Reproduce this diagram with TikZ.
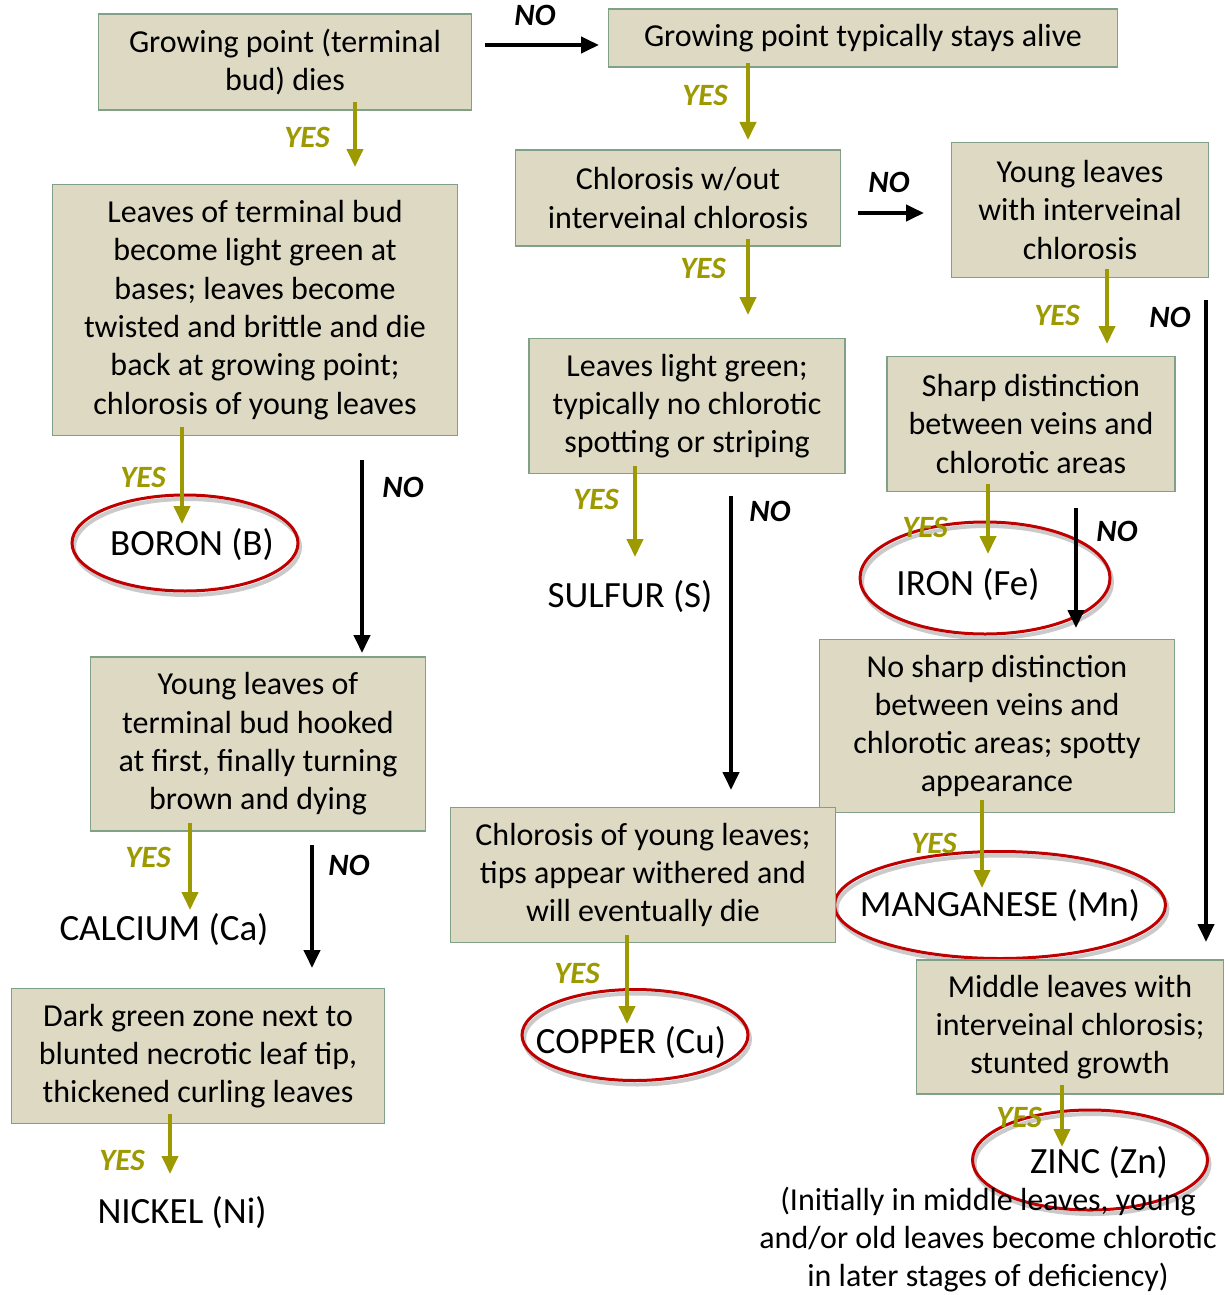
\documentclass[tikz,border=0pt]{standalone}
\usepackage{fontspec}
\setmainfont{Carlito}
\usetikzlibrary{arrows.meta,shapes.geometric}
\definecolor{boxfill}{RGB}{221,217,195}
\definecolor{boxline}{RGB}{128,160,136}
\definecolor{olive}{RGB}{156,154,0}
\definecolor{ellred}{RGB}{192,0,0}
\tikzset{
  stepbox/.style={draw=boxline, fill=boxfill, line width=1.6pt, align=center, inner sep=0pt,
    font=\fontsize{32}{38.3}\selectfont},
  result/.style={align=center, inner sep=0pt, font=\fontsize{37}{40}\selectfont},
  note/.style={align=center, inner sep=0pt, font=\fontsize{32}{38}\selectfont},
  ell/.style={ellipse, draw=ellred, line width=3pt, inner sep=0pt},
  ellshadow/.style={ellipse, draw=black!60, opacity=0.35, line width=4pt, inner sep=0pt},
  yesarrow/.style={draw=olive, line width=4pt, -{Triangle[length=18pt,width=16pt]}},
  noarrow/.style={draw=black, line width=4pt, -{Triangle[length=18pt,width=16pt]}},
  yeslabel/.style={text=olive, inner sep=0pt, font=\fontsize{31}{34}\selectfont\bfseries\itshape},
  nolabel/.style={text=black, inner sep=0pt, font=\fontsize{31}{34}\selectfont\bfseries\itshape},
}
\begin{document}
\begin{tikzpicture}[x=1pt,y=1pt]
\useasboundingbox (0,0) rectangle (1225,-1295);
% ellipses (drawn first)
\foreach \cx/\cy/\w/\h/\nm in {185/543/226/96/boron, 985/578/250/112/iron, 1000/905/331/107/mn, 635/1035/226/91/cu, 1090/1160/235/100/zn}{
  \node[ellshadow, minimum width=\w pt, minimum height=\h pt] (\nm s) at (\cx+2,-\cy-4) {};
  \node[ell, minimum width=\w pt, minimum height=\h pt] (\nm e) at (\cx,-\cy) {};
}
% boxes
\node[stepbox, minimum width=373pt, minimum height=96pt] (b1) at (285,-62) {Growing point (terminal\\bud) dies};
\node[stepbox, minimum width=509pt, minimum height=58pt] (b2) at (863,-38) {Growing point typically stays alive};
\node[stepbox, minimum width=405pt, minimum height=251pt] (b3) at (255,-310) {Leaves of terminal bud\\become light green at\\bases; leaves become\\twisted and brittle and die\\back at growing point;\\chlorosis of young leaves};
\node[stepbox, minimum width=325pt, minimum height=96pt] (b4) at (678,-198) {Chlorosis w/out\\interveinal chlorosis};
\node[stepbox, minimum width=257pt, minimum height=135pt] (b5) at (1080,-210) {Young leaves\\with interveinal\\chlorosis};
\node[stepbox, minimum width=316pt, minimum height=135pt] (b6) at (687,-406) {Leaves light green;\\typically no chlorotic\\spotting or striping};
\node[stepbox, minimum width=288pt, minimum height=135pt] (b7) at (1031,-424) {Sharp distinction\\between veins and\\chlorotic areas};
\node[stepbox, minimum width=335pt, minimum height=174pt] (b8) at (258,-744) {Young leaves of\\terminal bud hooked\\at first, finally turning\\brown and dying};
\node[stepbox, minimum width=355pt, minimum height=173pt] (b9) at (997,-726) {No sharp distinction\\between veins and\\chlorotic areas; spotty\\appearance};
\node[stepbox, minimum width=385pt, minimum height=135pt] (b10) at (643,-875) {Chlorosis of young leaves;\\tips appear withered and\\will eventually die};
\node[stepbox, minimum width=373pt, minimum height=135pt] (b11) at (198,-1056) {Dark green zone next to\\blunted necrotic leaf tip,\\thickened curling leaves};
\node[stepbox, minimum width=307pt, minimum height=134pt] (b12) at (1070,-1027) {Middle leaves with\\interveinal chlorosis;\\stunted growth};
% results
\node[result] (boron) at (192,-545) {BORON (B)};
\node[result] (iron) at (968,-585) {IRON (Fe)};
\node[result] (mn) at (1000,-906) {MANGANESE (Mn)};
\node[result] (cu) at (631,-1043) {COPPER (Cu)};
\node[result] (zn) at (1099,-1163) {ZINC (Zn)};
\node[result] (s) at (630,-597) {SULFUR (S)};
\node[result] (ca) at (164,-930) {CALCIUM (Ca)};
\node[result] (ni) at (182,-1213) {NICKEL (Ni)};
\node[note] (nt) at (988,-1240) {(Initially in middle leaves, young\\and/or old leaves become chlorotic\\in later stages of deficiency)};
% arrow coordinates
\coordinate (n1a) at (485,-45);   \coordinate (n1b) at (599,-45);
\coordinate (n2a) at (858,-213);  \coordinate (n2b) at (924,-213);
\coordinate (n3a) at (362,-460);  \coordinate (n3b) at (362,-653);
\coordinate (n4a) at (731,-496);  \coordinate (n4b) at (731,-790);
\coordinate (n5a) at (1076,-508); \coordinate (n5b) at (1076,-628);
\coordinate (n6a) at (1206,-300); \coordinate (n6b) at (1206,-942);
\coordinate (n7a) at (312,-845);  \coordinate (n7b) at (312,-968);
\draw[noarrow] (n1a) -- (n1b);
\draw[noarrow] (n2a) -- (n2b);
\draw[noarrow] (n3a) -- (n3b);
\draw[noarrow] (n4a) -- (n4b);
\draw[noarrow] (n5a) -- (n5b);
\draw[noarrow] (n6a) -- (n6b);
\draw[noarrow] (n7a) -- (n7b);
\node[nolabel] at (535,-15) {NO};
\node[nolabel] at (889,-182) {NO};
\node[nolabel] at (403,-487) {NO};
\node[nolabel] at (770,-511) {NO};
\node[nolabel] at (1117,-531) {NO};
\node[nolabel] at (1170,-317) {NO};
\node[nolabel] at (349,-865) {NO};
% yes arrows
\coordinate (y1b) at (355,-167);
\coordinate (y2b) at (748,-140);
\coordinate (y3b) at (748,-315);
\coordinate (y4b) at (182,-524);
\coordinate (y5b) at (635,-557);
\coordinate (y6b) at (1107,-344);
\coordinate (y7b) at (988,-554);
\coordinate (y8b) at (190,-910);
\coordinate (y9b) at (627,-1024);
\coordinate (y10b) at (982,-888);
\coordinate (y11b) at (170,-1174);
\coordinate (y12b) at (1062,-1147);
\draw[yesarrow] (b1.south -| y1b) ++(0,9) -- (y1b);
\draw[yesarrow] (b2.south -| y2b) ++(0,5) -- (y2b);
\draw[yesarrow] (b4.south -| y3b) ++(0,8) -- (y3b);
\draw[yesarrow] (b3.south -| y4b) ++(0,9) -- (y4b);
\draw[yesarrow] (b6.south -| y5b) ++(0,8) -- (y5b);
\draw[yesarrow] (b5.south -| y6b) ++(0,9) -- (y6b);
\draw[yesarrow] (b7.south -| y7b) ++(0,8) -- (y7b);
\draw[yesarrow] (b8.south -| y8b) ++(0,9) -- (y8b);
\draw[yesarrow] (b10.south -| y9b) ++(0,8) -- (y9b);
\draw[yesarrow] (b9.south -| y10b) ++(0,13) -- (y10b);
\draw[yesarrow] (b11.south -| y11b) ++(0,10) -- (y11b);
\draw[yesarrow] (b12.south -| y12b) ++(0,10) -- (y12b);
\node[yeslabel] at (307,-137) {YES};
\node[yeslabel] at (705,-95) {YES};
\node[yeslabel] at (703,-268) {YES};
\node[yeslabel] at (143,-477) {YES};
\node[yeslabel] at (596,-499) {YES};
\node[yeslabel] at (1057,-315) {YES};
\node[yeslabel] at (925,-527) {YES};
\node[yeslabel] at (148,-857) {YES};
\node[yeslabel] at (577,-973) {YES};
\node[yeslabel] at (934,-843) {YES};
\node[yeslabel] at (122,-1160) {YES};
\node[yeslabel] at (1019,-1117) {YES};
\end{tikzpicture}
\end{document}
